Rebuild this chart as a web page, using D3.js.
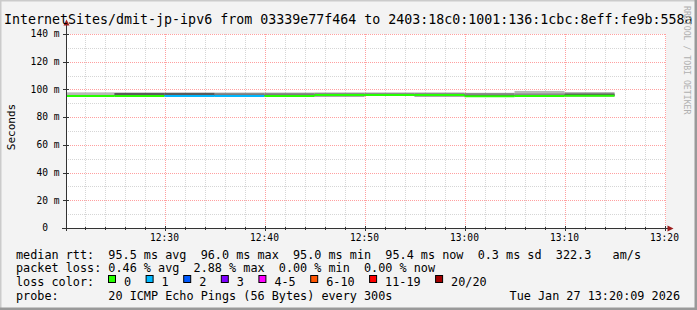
<!DOCTYPE html>
<html>
<head>
<meta charset="utf-8">
<script src="https://cdn.jsdelivr.net/npm/d3@7"></script>
<style>
  html, body { margin: 0; padding: 0; background: #f3f3f3; }
  svg text { font-family: "DejaVu Sans Mono", monospace; white-space: pre; }
</style>
</head>
<body>
<div id="chart"></div>
<script>
// smokeping graph: dmit-jp-ipv6, last hour, 300s steps

// end time of every 5 minute step
const stepEnds = ['12:25', '12:30', '12:35', '12:40', '12:45', '12:50', '12:55', '13:00', '13:05', '13:10', '13:15'];
// median rtt (ms) and lost pings (of 20) per step
const medianMs = [95.3, 95.3, 95.3, 95.2, 95.3, 96.0, 95.9, 96.0, 95.0, 95.3, 95.4];
const lostPings = [0, 0, 1, 1, 0, 0, 0, 0, 0, 0, 0];
// ping spread per step (ms): outer, middle and inner bands of the smoke
const smokeMin = [95.0, 95.0, 95.0, 94.9, 95.0, 94.9, 95.5, 94.9, 94.9, 95.0, 95.0];
const smokeMax = [97.9, 97.7, 97.7, 97.7, 97.7, 97.8, 97.8, 97.8, 97.6, 98.9, 97.9];
const smokeP15 = [95.1, 95.1, 95.1, 95.0, 95.1, 95.0, 95.6, 95.0, 95.0, 95.1, 95.1];
const smokeP85 = [96.0, 97.6, 97.6, 97.5, 97.5, 97.5, 97.5, 97.5, 97.4, 97.1, 97.7];
const smokeP30 = [95.2, 95.2, 95.2, 95.1, 95.2, 95.1, 95.8, 95.1, 95.1, 95.2, 95.2];
const smokeP70 = [95.6, 97.4, 97.4, 96.2, 96.2, 96.6, 96.6, 96.7, 96.1, 96.0, 96.8];

const yTicks = [0, 20, 40, 60, 80, 100, 120, 140];
const yTickLabels = ['0  ', '20 m', '40 m', '60 m', '80 m', '100 m', '120 m', '140 m'];

const lossLabels = ['0', '1', '2', '3', '4-5', '6-10', '11-19', '20/20'];
const lossColors = ['#26ff00', '#00b8ff', '#0059ff', '#7e00ff', '#ff00ff', '#ff5500', '#ff0000', '#a10000'];

const titleText = 'InternetSites/dmit-jp-ipv6 from 03339e77f464 to 2403:18c0:1001:136:1cbc:8eff:fe9b:558a';
const legendLines = [
    'median rtt:  95.5 ms avg  96.0 ms max  95.0 ms min  95.4 ms now  0.3 ms sd  322.3   am/s',
    'packet loss: 0.46 % avg  2.88 % max  0.00 % min  0.00 % now',
    'loss color:',
    'probe:       20 ICMP Echo Pings (56 Bytes) every 300s'
];
const dateText = 'Tue Jan 27 13:20:09 2026';

const W = 697, H = 310;
const parse = d3.timeParse('%Y-%m-%d %H:%M:%S');
const day = '2026-01-27 ';
const t0 = parse(day + '12:20:09'), t1 = parse(day + '13:20:09');

const x = d3.scaleTime().domain([t0, t1]).range([66, 666]);
const y = d3.scaleLinear().domain([0, 140]).range([228, 34]);

const svg = d3.select('#chart').append('svg')
    .attr('width', W).attr('height', H);

// background + frame
svg.append('rect').attr('width', W).attr('height', H).attr('fill', '#f3f3f3');
svg.append('path').attr('d', `M0,${H} V0 H${W}`).attr('stroke', '#cbcbcb').attr('stroke-width', 3).attr('fill', 'none');
svg.append('path').attr('d', `M0,${H - 1} H${W - 1} V0`).attr('stroke', '#999').attr('stroke-width', 3).attr('fill', 'none');

// plot canvas
svg.append('rect').attr('x', 66).attr('y', 34).attr('width', 600).attr('height', 194).attr('fill', '#fff');

const px = v => Math.round(v) + 0.5;

// grid
const grid = svg.append('g');
d3.range(10, 140, 20).forEach(v => {
    grid.append('line').attr('x1', 66).attr('x2', 666).attr('y1', px(y(v))).attr('y2', px(y(v)))
        .attr('stroke', '#d6d6d6').attr('stroke-dasharray', '1,1');
});
const minorTimes = d3.timeMinute.every(2).range(t0, t1).filter(t => t.getMinutes() % 10 !== 0);
minorTimes.forEach(t => {
    grid.append('line').attr('y1', 34).attr('y2', 228).attr('x1', px(x(t))).attr('x2', px(x(t)))
        .attr('stroke', '#d6d6d6').attr('stroke-dasharray', '1,1');
});
yTicks.slice(1).forEach(v => {
    grid.append('line').attr('x1', 66).attr('x2', 666).attr('y1', px(y(v))).attr('y2', px(y(v)))
        .attr('stroke', '#ffa0a0').attr('stroke-dasharray', '1,1');
});
const majorTimes = d3.timeMinute.every(10).range(t0, t1);
majorTimes.forEach(t => {
    grid.append('line').attr('y1', 34).attr('y2', 228).attr('x1', px(x(t))).attr('x2', px(x(t)))
        .attr('stroke', '#ffa0a0').attr('stroke-dasharray', '1,1');
});

// smoke + median per step
const steps = stepEnds.map((s, i) => {
    const end = parse(day + s + ':00');
    const start = new Date(Math.max(+t0, +end - 300000));
    return { start, end, i };
});

const smoke = svg.append('g');
const bands = [
    [smokeMin, smokeMax, '#b8b8b8'],
    [smokeP15, smokeP85, '#8c8c8c'],
    [smokeP30, smokeP70, '#5a5a5a']
];
bands.forEach(([lo, hi, col]) => {
    smoke.selectAll(null).data(steps).join('rect')
        .attr('x', d => x(d.start))
        .attr('width', d => x(d.end) - x(d.start))
        .attr('y', d => y(hi[d.i]))
        .attr('height', d => y(lo[d.i]) - y(hi[d.i]))
        .attr('fill', col);
});

const lossIndex = n => n <= 3 ? n : n <= 5 ? 4 : n <= 10 ? 5 : n <= 19 ? 6 : 7;
svg.append('g').selectAll('line').data(steps).join('line')
    .attr('x1', d => x(d.start)).attr('x2', d => x(d.end))
    .attr('y1', d => y(medianMs[d.i])).attr('y2', d => y(medianMs[d.i]))
    .attr('stroke', d => lossColors[lossIndex(lostPings[d.i])])
    .attr('stroke-width', 2);

// axes
const axisCol = '#333';
svg.append('line').attr('x1', 62).attr('x2', 668).attr('y1', 228.5).attr('y2', 228.5).attr('stroke', axisCol);
svg.append('line').attr('x1', 66.5).attr('x2', 66.5).attr('y1', 231).attr('y2', 22).attr('stroke', axisCol);
svg.append('path').attr('d', 'M63.5,25.5 L69.5,25.5 L66.5,19.5 Z').attr('fill', '#9b1c1c');
svg.append('path').attr('d', 'M667.5,225.5 L667.5,231.5 L673.5,228.5 Z').attr('fill', '#9b1c1c');

yTicks.forEach(v => {
    svg.append('line').attr('x1', 63).attr('x2', 69).attr('y1', px(y(v))).attr('y2', px(y(v))).attr('stroke', axisCol);
});
majorTimes.forEach(t => {
    svg.append('line').attr('y1', 226).attr('y2', 231).attr('x1', px(x(t))).attr('x2', px(x(t))).attr('stroke', axisCol);
});
minorTimes.forEach(t => {
    svg.append('line').attr('y1', 227).attr('y2', 230).attr('x1', px(x(t))).attr('x2', px(x(t))).attr('stroke', axisCol);
});

// tick labels
svg.append('g').selectAll('text').data(yTicks).join('text')
    .attr('x', 59.5).attr('y', d => y(d) + 3.3)
    .attr('text-anchor', 'end').attr('font-size', '9.6px').attr('fill', '#000')
    .text((d, i) => yTickLabels[i]);

svg.append('g').selectAll('text').data(majorTimes).join('text')
    .attr('x', d => x(d)).attr('y', 241)
    .attr('text-anchor', 'middle').attr('font-size', '9.6px').attr('fill', '#000')
    .text(d3.timeFormat('%H:%M'));

// titles
svg.append('text').attr('x', 4).attr('y', 23.5).attr('font-size', '13.3px').attr('fill', '#000').text(titleText);
svg.append('text').attr('transform', 'translate(14.5,127) rotate(-90)')
    .attr('text-anchor', 'middle').attr('font-size', '11px').attr('fill', '#000').text('Seconds');
svg.append('text').attr('transform', 'translate(684,6) rotate(90)')
    .attr('font-size', '8.2px').attr('fill', '#b0b0b0').text('RRDTOOL / TOBI OETIKER');

// legend
legendLines.forEach((s, i) => {
    svg.append('text').attr('x', 16).attr('y', 258.5 + i * 13.8)
        .attr('font-size', '11.8px').attr('fill', '#000').text(s);
});
let lx = 108;
lossLabels.forEach((lab, i) => {
    svg.append('rect').attr('x', lx + 0.5).attr('y', 275.5).attr('width', 7).attr('height', 7)
        .attr('fill', lossColors[i]).attr('stroke', '#000');
    svg.append('text').attr('x', lx + 16).attr('y', 258.5 + 2 * 13.8)
        .attr('font-size', '11.8px').attr('fill', '#000').text(lab);
    lx += 16 + lab.length * 7.1 + 14.5;
});
svg.append('text').attr('x', 680).attr('y', 258.5 + 3 * 13.8).attr('text-anchor', 'end')
    .attr('font-size', '11.8px').attr('fill', '#000').text(dateText);
</script>
</body>
</html>
